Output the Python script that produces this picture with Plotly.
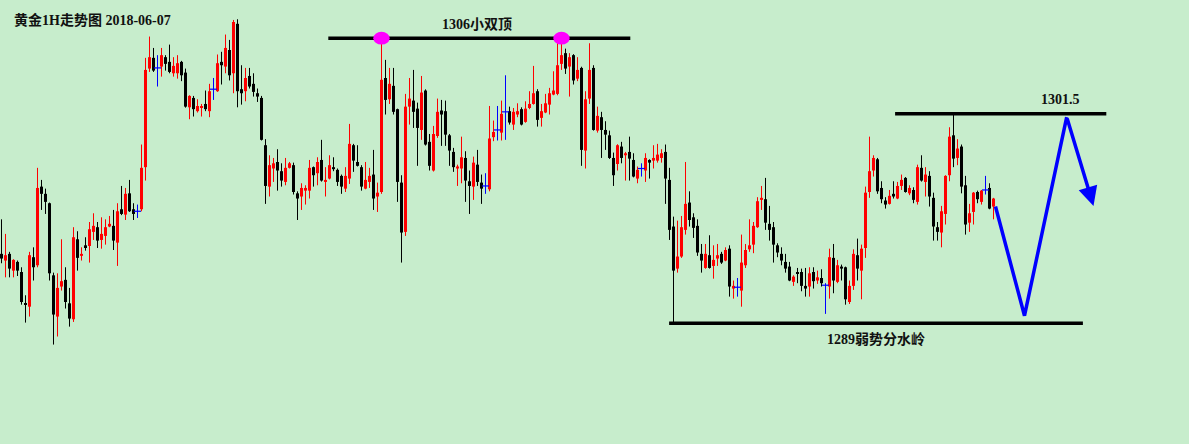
import plotly.graph_objects as go

# Hourly gold (XAU) candles, oldest first
open_prices = [
    1293.14, 1292.74, 1293.14, 1292.14, 1292.66, 1292.06, 1290.19, 1289.99, 1292.94, 1292.46,
    1297.15, 1296.72, 1296.16, 1291.86, 1289.40, 1291.19, 1291.59, 1290.19, 1289.24, 1294.01,
    1293.02, 1293.65, 1293.61, 1294.45, 1294.73, 1293.97, 1294.21, 1294.77, 1294.81, 1293.81,
    1295.80, 1295.48, 1296.75, 1295.80, 1295.68, 1295.80, 1298.31, 1304.19, 1304.83, 1304.23,
    1304.31, 1304.87, 1304.59, 1303.91, 1303.91, 1304.59, 1303.95, 1301.88, 1302.44, 1301.65,
    1301.84, 1302.08, 1301.65, 1302.96, 1302.84, 1304.59, 1304.31, 1305.30, 1303.91, 1306.86,
    1302.96, 1302.84, 1303.75, 1303.28, 1302.72, 1302.44, 1299.62, 1297.15, 1298.23, 1298.62,
    1298.07, 1297.43, 1298.27, 1298.43, 1296.75, 1296.56, 1296.91, 1296.91, 1298.31, 1297.95,
    1298.74, 1297.43, 1297.63, 1298.31, 1298.15, 1297.79, 1297.03, 1297.63, 1299.62, 1298.62,
    1298.31, 1297.03, 1297.43, 1297.87, 1296.56, 1296.83, 1303.63, 1302.36, 1303.16, 1301.77,
    1297.39, 1294.45, 1301.92, 1302.28, 1301.80, 1300.53, 1302.88, 1299.82, 1298.11, 1300.17,
    1301.69, 1301.65, 1300.21, 1299.22, 1298.23, 1298.23, 1298.86, 1297.47, 1297.15, 1298.46,
    1297.39, 1297.19, 1296.99, 1300.10, 1300.53, 1300.37, 1301.61, 1301.65, 1300.85, 1301.45,
    1301.77, 1301.01, 1301.84, 1302.08, 1302.84, 1301.25, 1301.57, 1302.04, 1302.64, 1302.68,
    1304.47, 1305.11, 1304.31, 1304.99, 1303.59, 1304.23, 1299.30, 1302.40, 1304.23, 1300.49,
    1301.29, 1300.53, 1300.21, 1298.86, 1298.50, 1299.54, 1299.02, 1299.22, 1298.74, 1297.63,
    1298.23, 1298.11, 1298.74, 1298.70, 1298.70, 1298.86, 1299.22, 1297.55, 1294.77, 1292.26,
    1292.98, 1294.57, 1296.20, 1295.32, 1294.81, 1293.14, 1292.30, 1293.06, 1292.42, 1292.86,
    1293.14, 1292.74, 1293.45, 1291.07, 1291.15, 1290.95, 1292.46, 1293.41, 1293.69, 1294.73,
    1296.36, 1296.40, 1294.93, 1294.73, 1293.65, 1293.14, 1292.66, 1292.38, 1291.47, 1292.06,
    1292.06, 1291.23, 1291.19, 1292.06, 1291.55, 1291.70, 1291.27, 1291.19, 1292.90, 1291.47,
    1292.38, 1292.34, 1290.27, 1291.23, 1293.06, 1292.14, 1293.49, 1296.83, 1298.11, 1298.78,
    1297.07, 1296.32, 1296.12, 1296.72, 1296.44, 1297.19, 1297.67, 1296.75, 1296.95, 1296.24,
    1298.27, 1297.43, 1297.79, 1296.48, 1294.73, 1294.41, 1295.52, 1297.83, 1300.21, 1298.86,
    1299.54, 1297.23, 1295.00, 1295.64, 1296.83, 1296.24, 1296.95, 1297.07, 1295.96,
]
high_prices = [
    1295.20, 1294.33, 1293.26, 1292.82, 1292.74, 1292.34, 1290.67, 1293.26, 1293.53, 1298.27,
    1297.55, 1297.03, 1296.20, 1292.02, 1291.98, 1294.01, 1292.34, 1291.11, 1294.73, 1294.49,
    1293.53, 1294.13, 1295.04, 1295.56, 1295.04, 1295.32, 1295.20, 1295.40, 1295.76, 1296.16,
    1297.19, 1297.07, 1297.55, 1296.16, 1296.08, 1299.66, 1304.83, 1306.10, 1305.42, 1304.99,
    1305.42, 1304.99, 1305.62, 1304.87, 1304.99, 1304.65, 1304.19, 1302.60, 1302.56, 1302.36,
    1302.08, 1302.88, 1303.28, 1303.63, 1305.03, 1305.19, 1306.22, 1305.90, 1307.09, 1307.13,
    1304.39, 1304.23, 1304.23, 1303.91, 1303.00, 1302.56, 1299.98, 1299.02, 1298.86, 1299.38,
    1298.54, 1298.86, 1298.62, 1298.58, 1296.87, 1297.35, 1297.23, 1298.74, 1298.35, 1298.90,
    1299.94, 1298.31, 1299.02, 1298.90, 1298.23, 1297.87, 1298.31, 1300.89, 1299.70, 1299.62,
    1298.43, 1298.62, 1298.27, 1299.34, 1297.39, 1306.00, 1304.71, 1304.23, 1304.23, 1301.80,
    1297.83, 1302.68, 1303.63, 1304.11, 1302.16, 1303.75, 1302.95, 1300.29, 1300.77, 1302.40,
    1302.32, 1302.28, 1300.29, 1299.46, 1298.46, 1300.13, 1299.26, 1298.11, 1298.94, 1299.34,
    1297.87, 1297.95, 1301.96, 1301.09, 1301.96, 1302.28, 1303.79, 1301.92, 1301.84, 1302.12,
    1301.88, 1302.24, 1302.84, 1304.35, 1302.96, 1302.08, 1302.68, 1303.04, 1304.03, 1305.82,
    1306.00, 1305.38, 1305.11, 1305.05, 1304.87, 1304.30, 1302.84, 1305.70, 1304.39, 1301.92,
    1301.61, 1301.05, 1300.49, 1299.18, 1299.68, 1299.82, 1299.22, 1300.13, 1299.14, 1298.35,
    1298.54, 1299.14, 1298.78, 1299.62, 1299.70, 1299.38, 1299.66, 1298.27, 1295.36, 1295.12,
    1295.40, 1298.62, 1296.87, 1295.56, 1295.20, 1293.73, 1293.73, 1294.25, 1293.65, 1293.73,
    1293.26, 1293.53, 1293.65, 1291.55, 1291.70, 1294.29, 1293.73, 1295.20, 1295.04, 1296.52,
    1297.19, 1297.67, 1296.00, 1295.04, 1293.77, 1293.53, 1293.14, 1292.66, 1291.86, 1292.30,
    1292.26, 1292.30, 1292.34, 1292.34, 1292.14, 1292.22, 1291.39, 1293.45, 1293.73, 1292.78,
    1292.50, 1292.38, 1291.55, 1293.41, 1294.05, 1293.69, 1297.15, 1300.13, 1299.02, 1298.86,
    1297.47, 1296.52, 1296.95, 1297.47, 1297.43, 1297.87, 1297.72, 1297.23, 1297.11, 1298.46,
    1299.02, 1298.31, 1298.07, 1296.79, 1295.04, 1296.00, 1297.83, 1300.69, 1301.45, 1299.98,
    1299.66, 1297.79, 1296.12, 1296.83, 1296.91, 1296.95, 1297.79, 1297.35, 1296.48,
]
low_prices = [
    1292.58, 1291.74, 1291.74, 1291.74, 1291.82, 1290.11, 1289.04, 1289.40, 1291.55, 1292.34,
    1295.76, 1295.52, 1291.55, 1287.73, 1288.21, 1290.95, 1289.88, 1288.80, 1289.08, 1292.14,
    1292.74, 1293.33, 1292.62, 1293.97, 1293.49, 1293.45, 1293.69, 1294.73, 1293.37, 1292.42,
    1295.45, 1295.16, 1295.64, 1295.16, 1295.28, 1295.68, 1297.51, 1303.99, 1303.99, 1303.12,
    1303.71, 1304.07, 1303.91, 1303.71, 1303.59, 1303.44, 1301.86, 1301.17, 1301.33, 1301.57,
    1301.33, 1301.65, 1301.29, 1302.32, 1302.80, 1303.24, 1303.91, 1303.48, 1302.72, 1301.88,
    1302.04, 1302.24, 1303.00, 1302.52, 1302.20, 1299.90, 1296.12, 1296.56, 1297.43, 1296.91,
    1297.15, 1297.23, 1298.23, 1296.68, 1295.16, 1295.76, 1296.08, 1296.44, 1297.15, 1297.23,
    1297.45, 1296.56, 1297.58, 1298.07, 1297.19, 1296.72, 1296.83, 1297.31, 1298.03, 1298.35,
    1296.91, 1296.99, 1297.07, 1295.76, 1295.64, 1296.72, 1301.45, 1302.08, 1301.45, 1296.24,
    1292.62, 1294.21, 1300.85, 1300.65, 1298.39, 1299.94, 1299.60, 1298.11, 1298.05, 1300.06,
    1299.58, 1299.58, 1298.39, 1298.03, 1297.19, 1297.35, 1296.24, 1295.52, 1296.36, 1297.19,
    1296.12, 1296.72, 1296.87, 1299.86, 1299.90, 1299.90, 1299.94, 1300.85, 1300.53, 1301.29,
    1300.80, 1300.96, 1301.77, 1302.04, 1300.73, 1300.73, 1301.53, 1301.45, 1302.60, 1302.60,
    1304.11, 1303.87, 1302.52, 1303.24, 1303.44, 1298.39, 1298.23, 1302.08, 1300.49, 1300.37,
    1298.86, 1299.34, 1298.80, 1297.19, 1298.11, 1298.54, 1297.51, 1297.51, 1297.70, 1297.35,
    1297.75, 1297.43, 1297.63, 1298.23, 1298.58, 1298.58, 1296.12, 1293.97, 1289.00, 1292.02,
    1292.90, 1294.29, 1294.77, 1294.09, 1293.02, 1292.02, 1292.25, 1292.26, 1291.66, 1292.42,
    1292.54, 1292.70, 1290.59, 1290.47, 1290.59, 1289.99, 1292.30, 1293.26, 1293.18, 1294.69,
    1295.76, 1294.57, 1293.93, 1292.62, 1292.94, 1292.46, 1292.02, 1291.51, 1291.23, 1291.39,
    1290.91, 1290.59, 1290.59, 1291.07, 1291.35, 1291.19, 1289.56, 1290.47, 1290.79, 1291.39,
    1291.55, 1290.11, 1290.15, 1290.99, 1291.55, 1290.43, 1292.90, 1296.48, 1297.75, 1296.72,
    1296.16, 1295.84, 1296.08, 1296.44, 1296.40, 1296.95, 1296.79, 1296.64, 1296.16, 1296.08,
    1297.45, 1296.56, 1295.96, 1293.93, 1293.93, 1293.53, 1294.89, 1297.47, 1298.31, 1298.43,
    1296.75, 1294.29, 1294.45, 1294.89, 1296.16, 1296.08, 1296.68, 1295.80, 1295.20,
]
close_prices = [
    1292.86, 1293.06, 1292.26, 1292.78, 1292.14, 1290.27, 1290.11, 1293.06, 1292.34, 1297.07,
    1296.72, 1296.24, 1291.98, 1289.52, 1291.11, 1291.51, 1290.27, 1289.28, 1294.13, 1292.90,
    1293.14, 1293.49, 1294.61, 1294.81, 1293.93, 1294.33, 1294.73, 1294.93, 1293.93, 1295.68,
    1295.52, 1296.72, 1295.68, 1295.52, 1295.68, 1298.27, 1304.11, 1304.87, 1304.07, 1304.23,
    1304.99, 1304.47, 1303.99, 1304.35, 1304.51, 1303.79, 1301.92, 1302.56, 1301.77, 1301.96,
    1301.96, 1301.77, 1302.84, 1302.96, 1304.51, 1304.39, 1305.42, 1303.79, 1306.97, 1302.84,
    1302.72, 1303.63, 1303.12, 1302.80, 1302.52, 1299.94, 1297.19, 1298.43, 1298.54, 1298.11,
    1297.51, 1298.27, 1298.54, 1296.83, 1296.44, 1297.07, 1297.07, 1298.27, 1297.83, 1298.62,
    1297.51, 1297.55, 1298.43, 1298.19, 1297.43, 1297.15, 1297.79, 1299.70, 1298.70, 1298.39,
    1297.15, 1297.55, 1297.79, 1296.44, 1296.79, 1303.52, 1302.32, 1303.28, 1301.61, 1297.43,
    1294.41, 1301.92, 1302.40, 1301.61, 1300.65, 1302.76, 1299.66, 1298.39, 1300.29, 1301.61,
    1301.45, 1300.25, 1299.30, 1298.31, 1298.35, 1298.90, 1297.51, 1297.19, 1298.58, 1297.43,
    1297.03, 1297.19, 1300.02, 1300.41, 1300.53, 1301.49, 1301.61, 1300.97, 1301.61, 1301.65,
    1300.85, 1301.80, 1302.08, 1302.72, 1301.13, 1301.65, 1302.12, 1302.72, 1302.88, 1304.39,
    1304.99, 1304.19, 1304.87, 1303.48, 1304.11, 1299.34, 1302.36, 1304.11, 1300.53, 1301.37,
    1300.53, 1300.25, 1298.86, 1297.83, 1299.62, 1298.86, 1299.14, 1298.82, 1297.75, 1298.15,
    1298.23, 1298.86, 1298.58, 1298.86, 1299.06, 1299.14, 1297.63, 1294.57, 1292.14, 1292.98,
    1294.73, 1296.12, 1295.16, 1294.69, 1293.22, 1292.74, 1293.14, 1292.30, 1292.78, 1293.06,
    1292.62, 1293.37, 1291.19, 1291.23, 1291.15, 1292.62, 1293.37, 1293.65, 1294.81, 1296.28,
    1296.48, 1295.00, 1294.57, 1293.69, 1293.22, 1292.74, 1292.26, 1291.55, 1291.78, 1291.94,
    1291.23, 1291.07, 1291.98, 1291.51, 1291.74, 1291.39, 1291.27, 1292.94, 1291.55, 1292.46,
    1292.26, 1290.43, 1291.23, 1293.14, 1292.26, 1293.45, 1296.79, 1298.07, 1298.86, 1296.87,
    1296.40, 1296.08, 1296.60, 1296.56, 1297.19, 1297.55, 1296.83, 1297.07, 1296.36, 1298.31,
    1297.51, 1297.87, 1296.56, 1294.77, 1294.45, 1295.68, 1297.79, 1300.13, 1298.82, 1299.42,
    1297.15, 1294.89, 1295.56, 1296.79, 1296.40, 1296.91, 1296.95, 1295.84, 1296.44,
]

# Key levels marked on the chart
double_top_level = 1306.0
resistance_level = 1301.5
support_level = 1289.0
double_top_bars = [95, 140]  # bars whose highs form the small double top

# Projected move after the last bar (bar position, price)
path_x = [248.5, 255.75, 266.3, 273.0]
path_y = [1295.96, 1289.45, 1301.3, 1296.0]

BG = "#C7EDCC"
UP_COLOR = "#FF0000"
DOWN_COLOR = "#000000"
FLAT_COLOR = "#0000FF"
TEXT_FONT = dict(family="Liberation Serif, Noto Sans CJK SC, serif", size=14, color="#111111")

n = len(close_prices)
assert n == len(open_prices) == len(high_prices) == len(low_prices)

# Split bars into rising / falling / unchanged
groups = {UP_COLOR: [], DOWN_COLOR: [], FLAT_COLOR: []}
for i in range(n):
    if close_prices[i] > open_prices[i]:
        groups[UP_COLOR].append(i)
    elif close_prices[i] < open_prices[i]:
        groups[DOWN_COLOR].append(i)
    else:
        groups[FLAT_COLOR].append(i)

fig = go.Figure()

for color, bars in groups.items():
    # wicks
    wx, wy = [], []
    for i in bars:
        wx += [i, i, None]
        wy += [low_prices[i], high_prices[i], None]
    fig.add_trace(go.Scatter(x=wx, y=wy, mode="lines", line=dict(color=color, width=1),
                             hoverinfo="skip"))

    if color == FLAT_COLOR:
        # doji: a short horizontal tick
        fig.add_trace(go.Scatter(
            x=bars, y=[close_prices[i] for i in bars], mode="markers",
            marker=dict(symbol="line-ew", size=5, line=dict(color=color, width=1.2)),
            hoverinfo="skip"))
    else:
        fig.add_trace(go.Bar(
            x=bars,
            base=[min(open_prices[i], close_prices[i]) for i in bars],
            y=[abs(close_prices[i] - open_prices[i]) for i in bars],
            width=0.75, marker=dict(color=color, line=dict(width=0)),
            hoverinfo="skip"))

# Projection zigzag and arrow
fig.add_trace(go.Scatter(x=path_x[:3], y=path_y[:3], mode="lines",
                         line=dict(color=FLAT_COLOR, width=3.5), hoverinfo="skip"))
fig.add_annotation(x=path_x[3], y=path_y[3], ax=path_x[2], ay=path_y[2],
                   xref="x", yref="y", axref="x", ayref="y", text="",
                   showarrow=True, arrowhead=2, arrowsize=1.1, arrowwidth=3.5,
                   arrowcolor=FLAT_COLOR)

# Horizontal levels
level_lines = [
    (double_top_level, 81.7, 157.2),
    (resistance_level, 223.4, 276.2),
    (support_level, 166.9, 270.35),
]
for level, x0, x1 in level_lines:
    fig.add_shape(type="line", xref="x", yref="y", x0=x0, x1=x1, y0=level, y1=level,
                  line=dict(color="#000000", width=3.5))

# Magenta dots on the two tops
for b in double_top_bars:
    fig.add_shape(type="circle", xref="x", yref="y", x0=b - 2.05, x1=b + 2.05,
                  y0=double_top_level - 0.38, y1=double_top_level + 0.38,
                  fillcolor="#FF00FF", line=dict(width=0))

# Texts
fig.add_annotation(x=12 / 1189, y=1 - 20 / 444, xref="paper", yref="paper",
                   xanchor="left", yanchor="middle", showarrow=False,
                   text="<b>黄金1H走势图 2018-06-07</b>", font=TEXT_FONT)
fig.add_annotation(x=118.85, y=1306.81, xref="x", yref="y", showarrow=False,
                   text="<b>1306小双顶</b>", font=TEXT_FONT)
fig.add_annotation(x=264.7, y=1302.35, xref="x", yref="y", showarrow=False,
                   text="<b>1301.5</b>", font=TEXT_FONT)
fig.add_annotation(x=218.5, y=1288.06, xref="x", yref="y", showarrow=False,
                   text="<b>1289弱势分水岭</b>", font=TEXT_FONT)

fig.update_layout(
    width=1189,
    height=444,
    margin=dict(l=0, r=0, t=0, b=0),
    paper_bgcolor=BG,
    plot_bgcolor=BG,
    showlegend=False,
    barmode="overlay",
    # bar centres land on pixel centres (1.5 + 4 * i)
    xaxis=dict(range=[-0.375, 296.875], visible=False, fixedrange=True),
    yaxis=dict(range=[1281.80, 1308.28], visible=False, fixedrange=True),
)

# drop the default page margin so the chart sits at the window corner
fig.write_html("out.html", config={"displayModeBar": False},
               post_script="document.body.style.margin = '0';")
